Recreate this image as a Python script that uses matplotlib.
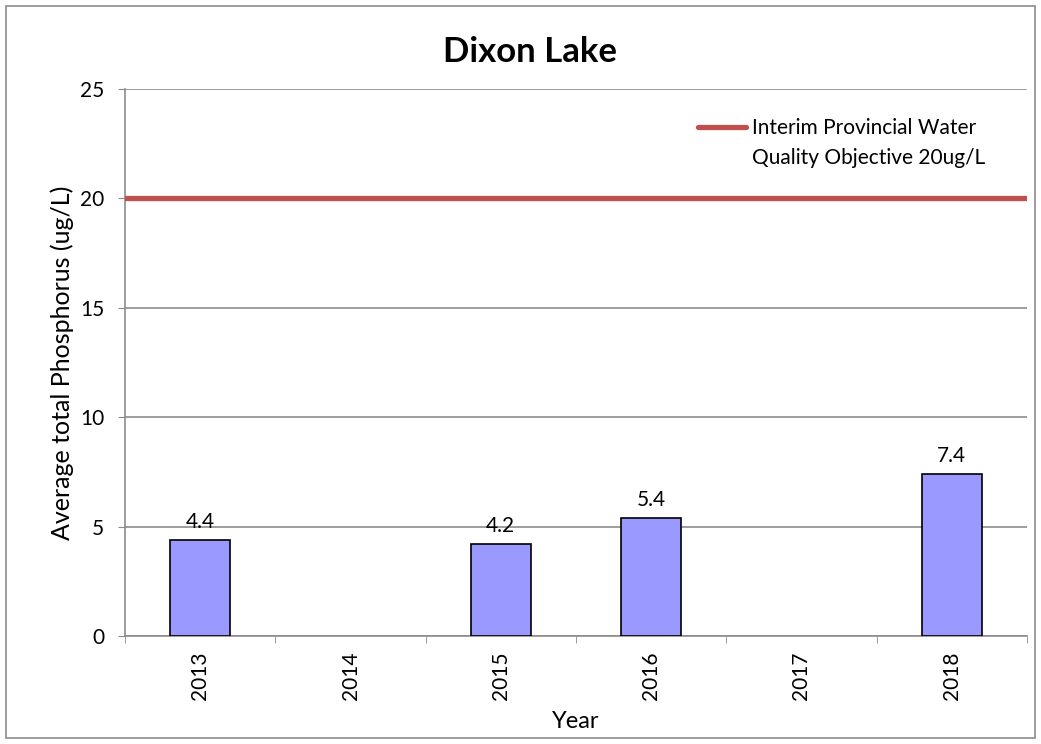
import matplotlib.pyplot as plt
import numpy as np
from matplotlib.lines import Line2D
from matplotlib.patches import Rectangle

plt.rcParams["font.family"] = ["Lato", "DejaVu Sans"]

years = ["2013", "2014", "2015", "2016", "2017", "2018"]
phosphorus = [4.4, np.nan, 4.2, 5.4, np.nan, 7.4]
objective = 20
objective_label = "Interim Provincial Water\nQuality Objective 20ug/L"

W, H = 1041, 744
fig = plt.figure(figsize=(W / 100, H / 100), dpi=100)
fig.patches.append(Rectangle((6 / W, 6 / H), 1 - 12 / W, 1 - 12 / H,
                             transform=fig.transFigure, fill=False, edgecolor="#8c8c8c", lw=1.2))
ax = fig.add_axes([125 / W, 1 - 636 / H, (1027 - 125) / W, (636 - 89) / H])

x = np.arange(len(years))
ax.bar(x, phosphorus, width=0.4, color="#9999ff", edgecolor="black", linewidth=1.2, zorder=3)
for xi, v in zip(x, phosphorus):
    if not np.isnan(v):
        ax.text(xi, v + 0.35, f"{v:.1f}", ha="center", va="bottom", fontsize=15)

ax.axhline(objective, color="#c0504d", lw=3.8, zorder=4, solid_capstyle="round")

ax.set_xlim(-0.5, len(years) - 0.5)
ax.set_ylim(0, 25)
ax.set_yticks(range(0, 26, 5))
ax.set_xticks(x)
ax.set_xticklabels(years, rotation=90, fontsize=15)
ax.set_xticks(np.arange(-0.5, len(years)), minor=True)
ax.tick_params(axis="x", which="major", length=0, pad=11)
ax.tick_params(axis="x", which="minor", length=5, color="#8c8c8c", direction="out")
ax.tick_params(axis="y", length=5, color="#8c8c8c", labelsize=15, pad=10)
ax.yaxis.grid(True, color="#8c8c8c", lw=1.2, zorder=0)
for side in ["top", "right"]:
    ax.spines[side].set_visible(False)
for side in ["left", "bottom"]:
    ax.spines[side].set_color("#8c8c8c")
    ax.spines[side].set_linewidth(1.2)

fig.text(530 / W, 1 - 62 / H, "Dixon Lake", fontsize=25, fontweight="bold",
         ha="center", va="baseline")
ax.set_ylabel("Average total Phosphorus (ug/L)", fontsize=18)
ax.yaxis.set_label_coords(-0.0565, 0.5)
ax.set_xlabel("Year", fontsize=17)
ax.xaxis.set_label_coords(0.5, -0.137)

# legend drawn Excel-style: handle aligned with the first text line
ax.add_line(Line2D([0.635, 0.688], [0.9305, 0.9305], transform=ax.transAxes,
                   color="#c0504d", lw=3.8, solid_capstyle="round", zorder=5))
ax.text(0.695, 0.947, objective_label, transform=ax.transAxes, fontsize=15,
        ha="left", va="top", linespacing=1.6)

fig.savefig("out.png", dpi=100)
